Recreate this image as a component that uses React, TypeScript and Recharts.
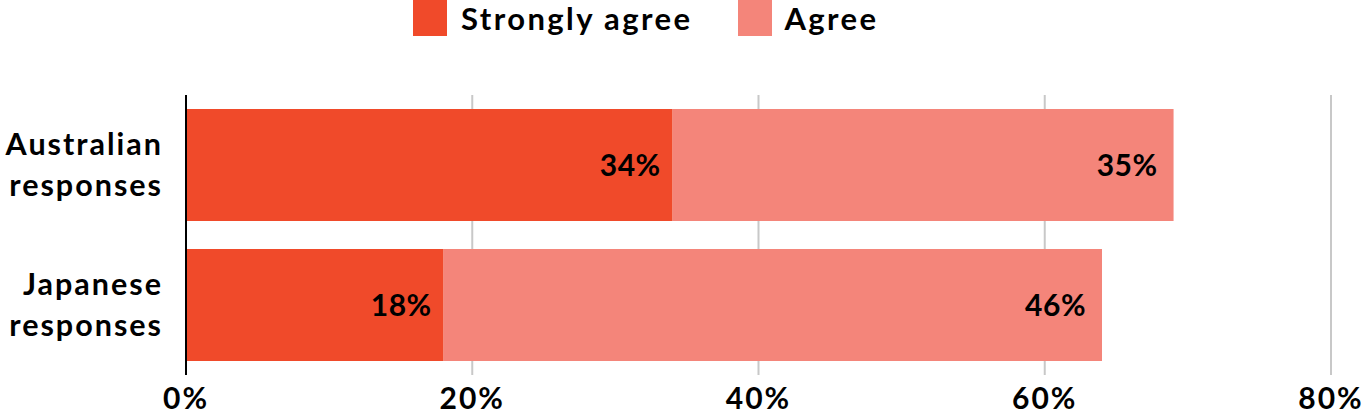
import React from "react";
import { BarChart, Bar, XAxis, YAxis, CartesianGrid, LabelList, Legend } from "recharts";

const categories = ["Australian responses", "Japanese responses"];
const stronglyAgree = [34, 18];
const agree = [35, 46];
const xTicks = [0, 20, 40, 60, 80];

const FONT = "Lato, 'Open Sans', sans-serif";
const C_STRONG = "#F04A2A";
const C_AGREE = "#F4857A";

const data = categories.map((name, i) => ({
  name,
  strong: stronglyAgree[i],
  agree: agree[i],
}));

const YTick = (props: any) => {
  const { x, y, payload } = props;
  const words = String(payload.value).split(" ");
  const tx = x - 15;
  return (
    <text
      x={tx}
      y={y}
      textAnchor="end"
      fill="#000"
      fontFamily={FONT}
      fontWeight={700}
      fontSize={30.5}
      letterSpacing={2}
    >
      <tspan x={tx} dy={-10}>{words[0]}</tspan>
      <tspan x={tx} dy={41}>{words[1]}</tspan>
    </text>
  );
};

const LegendContent = () => (
  <div
    style={{
      height: 40,
      display: "flex",
      justifyContent: "flex-start",
      alignItems: "flex-start",
      paddingLeft: 413,
      boxSizing: "border-box",
      fontFamily: FONT,
      fontWeight: 700,
      fontSize: 31,
      letterSpacing: 2.4,
      color: "#000",
      lineHeight: "36px",
    }}
  >
    <div style={{ display: "flex", alignItems: "center", marginRight: 46 }}>
      <span style={{ width: 34, height: 36, background: C_STRONG, display: "inline-block", marginRight: 14 }} />
      <span>Strongly agree</span>
    </div>
    <div style={{ display: "flex", alignItems: "center" }}>
      <span style={{ width: 34, height: 36, background: C_AGREE, display: "inline-block", marginRight: 12 }} />
      <span>Agree</span>
    </div>
  </div>
);

const labelStyle = { fill: "#000", fontFamily: FONT, fontWeight: 700, fontSize: 30, letterSpacing: 0.5 };

export default function App() {
  return (
    <div style={{ position: "absolute", left: 0, top: 0, width: 1368, height: 414, background: "#fff" }}>
      <BarChart
        width={1368}
        height={414}
        data={data}
        layout="vertical"
        margin={{ top: 55, right: 37, bottom: 0, left: 0 }}
        barCategoryGap="10%"
      >
        <Legend
          verticalAlign="top"
          align="center"
          content={<LegendContent />}
          wrapperStyle={{ top: 0, left: 0, width: 1368, height: 40 }}
        />
        <CartesianGrid horizontal={false} vertical stroke="#c8c8c8" strokeWidth={2} />
        <XAxis
          type="number"
          domain={[0, 80]}
          ticks={xTicks}
          tickFormatter={(v: number) => `${v}%`}
          axisLine={false}
          tickLine={false}
          height={39}
          tickMargin={7}
          tick={{ fill: "#000", fontFamily: FONT, fontWeight: 700, fontSize: 30, letterSpacing: 2 }}
          interval={0}
        />
        <YAxis
          type="category"
          dataKey="name"
          width={186}
          axisLine={{ stroke: "#000", strokeWidth: 2 }}
          tickLine={false}
          tick={<YTick />}
        />
        <Bar dataKey="strong" stackId="a" fill={C_STRONG} isAnimationActive={false}>
          <LabelList dataKey="strong" position="insideRight" offset={12} formatter={(v: any) => `${v}%`} style={labelStyle} />
        </Bar>
        <Bar dataKey="agree" stackId="a" fill={C_AGREE} isAnimationActive={false}>
          <LabelList dataKey="agree" position="insideRight" offset={16} formatter={(v: any) => `${v}%`} style={labelStyle} />
        </Bar>
      </BarChart>
    </div>
  );
}
